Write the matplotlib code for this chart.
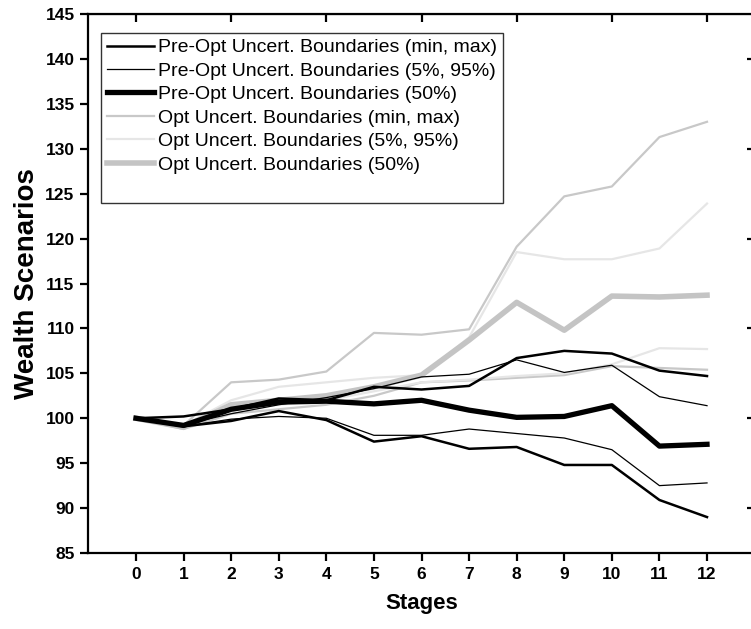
import numpy as np
import matplotlib
matplotlib.use("Agg")
from matplotlib import pyplot as plt

plt.rcParams['font.family'] = ['Liberation Sans', 'DejaVu Sans']

stages = list(range(13))

# pre-optimisation boundaries (black)
pre_max = [100, 100.2, 101.0, 102.2, 102.0, 103.5, 103.2, 103.6, 106.7, 107.5, 107.2, 105.3, 104.7]
pre_p95 = [100, 99.3, 100.5, 101.5, 102.3, 103.3, 104.6, 104.9, 106.5, 105.1, 105.9, 102.4, 101.4]
pre_p50 = [100, 99.2, 101.0, 101.8, 101.9, 101.6, 102.0, 100.9, 100.1, 100.2, 101.4, 96.9, 97.1]
pre_p05 = [100, 99.1, 99.9, 100.2, 100.0, 98.1, 98.1, 98.8, 98.3, 97.8, 96.5, 92.5, 92.8]
pre_min = [100, 99.1, 99.7, 100.8, 99.8, 97.4, 98.0, 96.6, 96.8, 94.8, 94.8, 90.9, 89.0]

# optimised boundaries (grey)
opt_max = [100, 99.2, 104.0, 104.3, 105.2, 109.5, 109.3, 109.9, 119.1, 124.7, 125.8, 131.3, 133.0]
opt_p95 = [100, 99.2, 102.0, 103.5, 104.0, 104.5, 104.8, 109.0, 118.5, 117.7, 117.7, 118.9, 123.9]
opt_p50 = [100, 99.0, 101.5, 102.0, 102.5, 103.5, 104.8, 108.7, 112.9, 109.8, 113.6, 113.5, 113.7]
opt_p05 = [100, 99.0, 101.0, 101.5, 102.0, 103.0, 104.0, 104.3, 104.7, 105.0, 106.0, 107.8, 107.7]
opt_min = [100, 98.8, 100.5, 101.0, 101.5, 102.5, 104.0, 104.2, 104.5, 104.8, 105.8, 105.6, 105.4]

fig = plt.figure(figsize=(7.51, 6.29), dpi=100)
ax = fig.add_axes([88.4 / 751, 76 / 629, 666.2 / 751, 539 / 629])

# grey (opt) first so the black sits on top
l4, = ax.plot(stages, opt_max, color="#c8c8c8", lw=1.6, label="Opt Uncert. Boundaries (min, max)")
ax.plot(stages, opt_min, color="#c8c8c8", lw=1.6)
l5, = ax.plot(stages, opt_p95, color="#e6e6e6", lw=1.6, label="Opt Uncert. Boundaries (5%, 95%)")
ax.plot(stages, opt_p05, color="#e6e6e6", lw=1.6)
l6, = ax.plot(stages, opt_p50, color="#c4c4c4", lw=4, label="Opt Uncert. Boundaries (50%)")

l1, = ax.plot(stages, pre_max, color="black", lw=1.8, label="Pre-Opt Uncert. Boundaries (min, max)")
ax.plot(stages, pre_min, color="black", lw=1.8)
l2, = ax.plot(stages, pre_p95, color="black", lw=0.9, label="Pre-Opt Uncert. Boundaries (5%, 95%)")
ax.plot(stages, pre_p05, color="black", lw=0.9)
l3, = ax.plot(stages, pre_p50, color="black", lw=3.8, label="Pre-Opt Uncert. Boundaries (50%)")
# empty row at the bottom of the legend box
blank, = ax.plot([], [], color="none", label=" ")

ax.set_xlim(-1, 13)
ax.set_ylim(85, 145)
ax.set_xticks(stages)
ax.set_yticks(np.arange(85, 146, 5))
ax.set_xlabel("Stages", fontsize=16, fontweight="bold", labelpad=8)
ax.set_ylabel("Wealth Scenarios", fontsize=20, fontweight="bold", labelpad=4)

for s in ax.spines.values():
    s.set_linewidth(1.6)
ax.tick_params(axis="both", which="major", direction="out", length=6, width=1.6,
               labelsize=12.5, pad=4)
for lab in ax.get_xticklabels() + ax.get_yticklabels():
    lab.set_fontweight("bold")

# inward ticks on top and right
ax.secondary_xaxis("top").tick_params(direction="in", length=6, width=1.6, labeltop=False)
ax.secondary_yaxis("right").tick_params(direction="in", length=6, width=1.6, labelright=False)

leg = ax.legend(handles=[l1, l2, l3, l4, l5, l6, blank], loc="upper left",
                bbox_to_anchor=(0.019, 0.965),
                fontsize=14, frameon=True, fancybox=False, edgecolor="black",
                handlelength=2.4, handletextpad=0.25, labelspacing=0.3, borderpad=0.3,
                borderaxespad=0)
leg.get_frame().set_linewidth(1.0)

fig.savefig("out.png", dpi=100)
